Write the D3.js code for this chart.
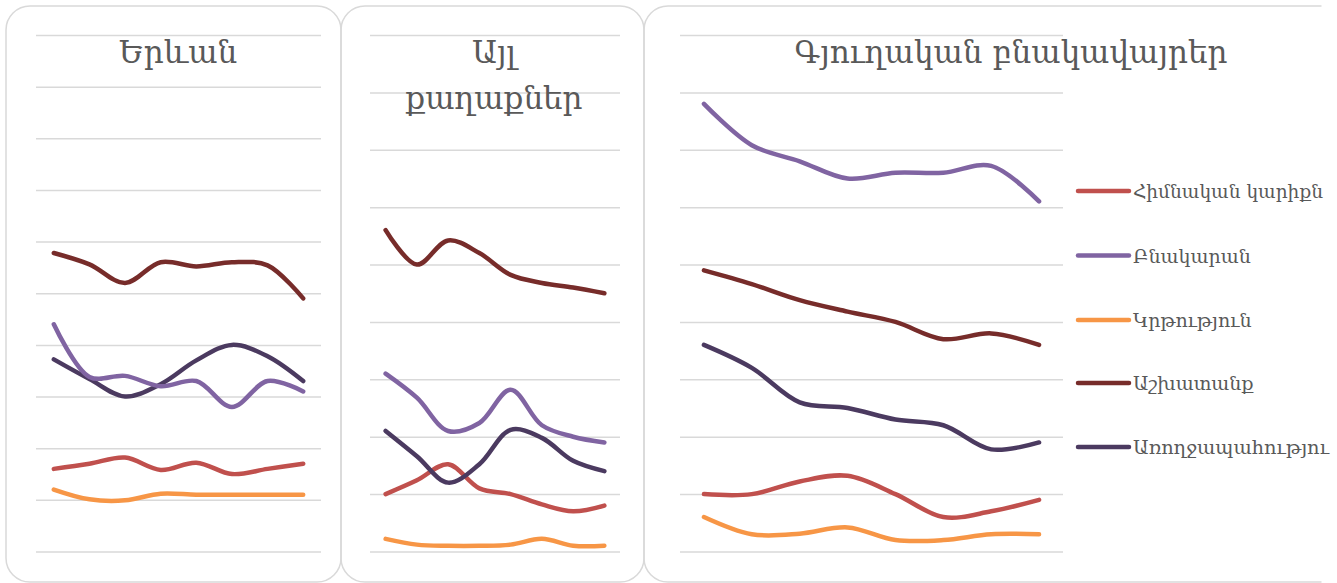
<!DOCTYPE html>
<html>
<head>
<meta charset="utf-8">
<script src="https://cdn.jsdelivr.net/npm/d3@7/dist/d3.min.js"></script>
<style>
  html, body { margin: 0; padding: 0; background: #ffffff; }
  svg { display: block; }
</style>
</head>
<body>
<svg id="chart" width="1337" height="583"></svg>
<script>
// ---- DATA ----
const categories = ["1", "2", "3", "4", "5", "6", "7", "8"];
const seriesNames = ["Հիմնական կարիքներ", "Բնակարան", "Կրթություն", "Աշխատանք", "Առողջապահություն"];
// legend labels as they are visible in the reference (cut by the chart edge)
const legendLabels = ["Հիմնական կարիքն", "Բնակարան", "Կրթություն", "Աշխատանք", "Առողջապահությու"];
const seriesColors = ["#C0504D", "#8064A2", "#F79646", "#772C2A", "#4B3A60"];
const panelTitles = [["Երևան"], ["Այլ", "քաղաքներ"], ["Գյուղական բնակավայրեր"]];
const yTicks1 = [0, 5, 10, 15, 20, 25, 30, 35, 40, 45, 50];
const yTicks2 = [0, 5, 10, 15, 20, 25, 30, 35, 40, 45];
const yTicks3 = [0, 5, 10, 15, 20, 25, 30, 35, 40, 45];

// Yerevan
const yerevanBasic    = [8.0, 8.5, 9.1, 7.9, 8.6, 7.5, 8.0, 8.5];
const yerevanHousing  = [22.0, 16.9, 17.0, 16.0, 16.5, 14.0, 16.5, 15.5];
const yerevanEdu      = [6.0, 5.05, 4.95, 5.6, 5.5, 5.5, 5.5, 5.5];
const yerevanWork     = [28.9, 27.8, 26.0, 28.0, 27.6, 28.0, 27.7, 24.5];
const yerevanHealth   = [18.6, 16.7, 15.0, 16.2, 18.5, 20.0, 18.9, 16.5];
// Other towns
const townsBasic      = [5.0, 6.2, 7.6, 5.5, 5.0, 4.1, 3.5, 4.0];
const townsHousing    = [15.5, 13.4, 10.5, 11.2, 14.1, 11.0, 10.0, 9.5];
const townsEdu        = [1.1, 0.6, 0.5, 0.5, 0.6, 1.1, 0.5, 0.5];
const townsWork       = [28.0, 25.0, 27.1, 26.0, 24.1, 23.4, 23.0, 22.5];
const townsHealth     = [10.5, 8.3, 6.0, 7.6, 10.6, 9.9, 7.9, 7.0];
// Rural settlements
const ruralBasic      = [5.0, 5.0, 6.1, 6.6, 5.0, 3.0, 3.5, 4.5];
const ruralHousing    = [39.0, 35.4, 34.0, 32.5, 33.0, 33.0, 33.6, 30.5];
const ruralEdu        = [3.0, 1.5, 1.55, 2.1, 1.0, 1.0, 1.5, 1.5];
const ruralWork       = [24.5, 23.3, 21.9, 20.9, 20.0, 18.5, 19.0, 18.0];
const ruralHealth     = [18.0, 16.0, 13.0, 12.5, 11.5, 11.0, 8.9, 9.5];

// ---- LAYOUT ----
const svg = d3.select("#chart");
const FONT = "'DejaVu Serif', 'Liberation Serif', serif";
const GRID = "#d9d9d9";
const TEXT = "#595959";

const panels = [
  { box: [6, 6, 335, 576], plotX: [36, 321], ticks: yTicks1,
    series: [yerevanBasic, yerevanHousing, yerevanEdu, yerevanWork, yerevanHealth],
    titleX: 178, titleY: [63] },
  { box: [341, 6, 303, 576], plotX: [370, 620], ticks: yTicks2,
    series: [townsBasic, townsHousing, townsEdu, townsWork, townsHealth],
    titleX: 494, titleY: [63, 109] },
  { box: [644, 6, 740, 576], plotX: [680, 1063], ticks: yTicks3,
    series: [ruralBasic, ruralHousing, ruralEdu, ruralWork, ruralHealth],
    titleX: 1011, titleY: [63] }
];

// clip so the third panel's box stops where the reference's does
svg.append("defs").append("clipPath").attr("id", "boxclip")
  .append("rect").attr("x", 0).attr("y", 0).attr("width", 1321.5).attr("height", 583);

const drawOrder = [2, 0, 4, 1, 3];

panels.forEach((p, pi) => {
  const g = svg.append("g");
  g.append("rect")
    .attr("clip-path", "url(#boxclip)")
    .attr("x", p.box[0]).attr("y", p.box[1])
    .attr("width", p.box[2]).attr("height", p.box[3])
    .attr("rx", 24).attr("ry", 24)
    .attr("fill", "none").attr("stroke", GRID).attr("stroke-width", 1.5);

  const x = d3.scalePoint().domain(categories).range(p.plotX).padding(0.5);
  const y = d3.scaleLinear().domain([0, d3.max(p.ticks)]).range([551.5, 35]);

  const axis = d3.axisLeft(y).tickValues(p.ticks)
    .tickSize(-(p.plotX[1] - p.plotX[0])).tickFormat("");
  const ag = g.append("g").attr("transform", `translate(${p.plotX[0]},0)`).call(axis);
  ag.select(".domain").remove();
  ag.selectAll(".tick line").attr("stroke", GRID).attr("stroke-width", 1.5);

  const t = g.append("text")
    .attr("text-anchor", "middle")
    .attr("font-family", FONT).attr("font-size", 31)
    .attr("fill", TEXT);
  panelTitles[pi].forEach((s, i) => {
    t.append("tspan").attr("x", p.titleX).attr("y", p.titleY[i]).text(s);
  });

  const line = d3.line()
    .x((d, i) => x(categories[i]))
    .y(d => y(d))
    .curve(d3.curveCatmullRom.alpha(0.5));

  drawOrder.forEach(si => {
    g.append("path")
      .datum(p.series[si])
      .attr("d", line)
      .attr("fill", "none")
      .attr("stroke", seriesColors[si])
      .attr("stroke-width", 4.5)
      .attr("stroke-linecap", "round")
      .attr("stroke-linejoin", "round");
  });
});

// ---- LEGEND ----
const legendY = [191, 255.5, 320, 383, 447];
const lg = svg.append("g");
seriesNames.forEach((name, i) => {
  lg.append("line")
    .attr("x1", 1078).attr("x2", 1129)
    .attr("y1", legendY[i]).attr("y2", legendY[i])
    .attr("stroke", seriesColors[i]).attr("stroke-width", 4.5)
    .attr("stroke-linecap", "round");
  lg.append("text")
    .attr("x", 1133).attr("y", legendY[i] + 7)
    .attr("font-family", FONT).attr("font-size", 19)
    .attr("textLength", i === 0 ? 190 : (i === 4 ? 196 : null))
    .attr("lengthAdjust", "spacingAndGlyphs")
    .attr("fill", TEXT)
    .text(legendLabels[i]);
});
</script>
</body>
</html>
